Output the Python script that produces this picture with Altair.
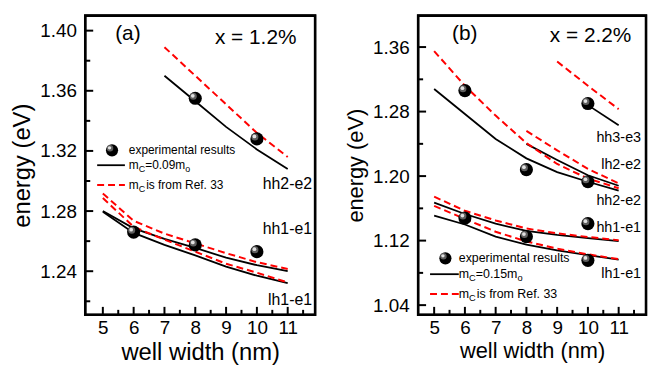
import altair as alt
import pandas as pd

FONT = "Liberation Sans"

# ---------------- panel (a): x = 1.2 % ----------------
a_w_full = [5, 6, 7, 8, 9, 10, 11]
a_w_hh2 = [7, 8, 9, 10, 11]
a_hh2_solid = [1.370, 1.353, 1.336, 1.321, 1.308]
a_hh2_dash = [1.389, 1.370, 1.351, 1.332, 1.316]
a_hh1_solid = [1.280, 1.2685, 1.2615, 1.2555, 1.249, 1.244, 1.240]
a_lh1_solid = [1.2795, 1.2655, 1.2575, 1.2505, 1.243, 1.237, 1.232]
a_hh1_dash = [1.2917, 1.2735, 1.265, 1.2585, 1.252, 1.246, 1.2415]
a_lh1_dash = [1.2887, 1.2695, 1.261, 1.253, 1.245, 1.239, 1.2325]
a_exp_w = [6, 8, 10, 8, 10]
a_exp_e = [1.266, 1.2575, 1.253, 1.355, 1.328]
a_label_text = ["hh2-e2", "hh1-e1", "lh1-e1"]
a_label_w = [11.79, 11.79, 11.79]
a_label_e = [1.298, 1.268, 1.221]
a_x_domain = [4.43, 11.89]
a_y_domain = [1.211, 1.410]
a_y_major = [1.24, 1.28, 1.32, 1.36, 1.40]
a_y_minor = [1.22, 1.26, 1.30, 1.34, 1.38]
a_mc = "0.09"

# ---------------- panel (b): x = 2.2 % ----------------
b_w_full = [5, 6, 7, 8, 9, 10, 11]
b_w_from8 = [8, 9, 10, 11]
b_w_from9 = [9, 10, 11]
b_w_from10 = [10, 11]
b_hh3_solid = [1.288, 1.263]
b_hh3_dash = [1.342, 1.312, 1.283]
b_hh2_solid = [1.308, 1.277, 1.246, 1.222, 1.205, 1.193, 1.182]
b_hh2_dash = [1.355, 1.312, 1.275, 1.241, 1.215, 1.197, 1.185]
b_lh2_solid = [1.240, 1.220, 1.201, 1.188]
b_lh2_dash = [1.256, 1.232, 1.209, 1.191]
b_hh1_solid = [1.167, 1.153, 1.141, 1.132, 1.127, 1.123, 1.1195]
b_hh1_dash = [1.1745, 1.157, 1.145, 1.135, 1.129, 1.1245, 1.1205]
b_lh1_solid = [1.151, 1.140, 1.125, 1.115, 1.108, 1.102, 1.0965]
b_lh1_dash = [1.163, 1.147, 1.131, 1.119, 1.110, 1.103, 1.097]
b_exp_w = [6, 10, 8, 10, 6, 10, 8, 10]
b_exp_e = [1.306, 1.290, 1.208, 1.193, 1.148, 1.141, 1.125, 1.0955]
b_label_text = ["hh3-e3", "lh2-e2", "hh2-e2", "hh1-e1", "lh1-e1"]
b_label_w = [11.73, 11.73, 11.73, 11.73, 11.73]
b_label_e = [1.2476, 1.2137, 1.1692, 1.136, 1.078]
b_x_domain = [4.48, 11.89]
b_y_domain = [1.028, 1.399]
b_y_major = [1.04, 1.12, 1.20, 1.28, 1.36]
b_y_minor = [1.08, 1.16, 1.24, 1.32]
b_mc = "0.15"

x_major = [5, 6, 7, 8, 9, 10, 11]
x_minor = [5.5, 6.5, 7.5, 8.5, 9.5, 10.5, 11.5]

H = 302

ONE = pd.DataFrame({"k": [0]})

BALL_PARTS = [(175, 0, 0, "#000000", 1.0), (50, -2, -2, "#6e6e6e", 0.85), (14, -2.5, -2.5, "#e8e8e8", 0.95)]


def curves_df(items):
    rows = []
    for name, xs, ys in items:
        for xv, yv in zip(xs, ys):
            rows.append({"x": xv, "y": yv, "curve": name})
    return pd.DataFrame(rows)


def text_w(s, fs):
    wid = {"m": 0.833, "C": 0.722, "=": 0.584, ".": 0.278, " ": 0.278, "o": 0.556,
           "i": 0.222, "s": 0.5, "f": 0.278, "r": 0.333, "R": 0.722, "e": 0.556}
    return sum(wid.get(c, 0.556) for c in s) * fs


def make_panel(p):
    W = p["w"]
    xd, yd = p["xdom"], p["ydom"]
    X = alt.X("x:Q", scale=alt.Scale(domain=xd, nice=False, zero=False),
              axis=alt.Axis(values=x_major, format="d", ticks=False, grid=False, domain=False,
                            labelFont=FONT, labelFontSize=19, labelColor="black", labelPadding=4,
                            titleFont=FONT, titleFontSize=p["tfs"], titleFontWeight="normal",
                            titleColor="black", titlePadding=3),
              title="well width (nm)")
    Y = alt.Y("y:Q", scale=alt.Scale(domain=yd, nice=False, zero=False),
              axis=alt.Axis(values=p["ymaj"], format=".2f", ticks=False, grid=False, domain=False,
                            labelFont=FONT, labelFontSize=19, labelColor="black", labelPadding=9,
                            titleFont=FONT, titleFontSize=p["tfs"], titleFontWeight="normal",
                            titleColor="black", titlePadding=5),
              title="energy (eV)")

    frame = alt.Chart(ONE).mark_rect(fill="none", stroke="black", strokeWidth=2.6).encode(
        x=alt.value(0), x2=alt.value(W), y=alt.value(0), y2=alt.value(H))

    pxu = W / (xd[1] - xd[0])
    pyu = H / (yd[1] - yd[0])
    trows = []
    k = 0
    for vals, ln in ((p["ymaj"], 8), (p["ymin"], 5)):
        for v in vals:
            trows += [{"x": xd[0], "y": v, "t": k}, {"x": xd[0] + ln / pxu, "y": v, "t": k}]
            k += 1
    for vals, ln in ((x_major, 8), (x_minor, 5)):
        for v in vals:
            trows += [{"x": v, "y": yd[0], "t": k}, {"x": v, "y": yd[0] + ln / pyu, "t": k}]
            k += 1
    ticks = alt.Chart(pd.DataFrame(trows)).mark_line(color="black", strokeWidth=2).encode(
        x=X, y=Y, detail="t:N")

    solid = alt.Chart(curves_df(p["solid"])).mark_line(color="black", strokeWidth=1.8).encode(
        x=X, y=Y, detail="curve:N")
    dashed = alt.Chart(curves_df(p["dash"])).mark_line(
        color="#ff0000", strokeWidth=2, strokeDash=[7, 4]).encode(x=X, y=Y, detail="curve:N")
    exp_df = pd.DataFrame({"x": p["expw"], "y": p["expe"]})
    pts = [alt.Chart(exp_df).mark_circle(size=sz, color=c, opacity=op, xOffset=dx, yOffset=dy).encode(x=X, y=Y)
           for sz, dx, dy, c, op in BALL_PARTS]
    labels = alt.Chart(pd.DataFrame({"x": p["lw"], "y": p["le"], "t": p["lt"]})).mark_text(
        align="right", baseline="middle", font=FONT, fontSize=p["lbfs"], color="black").encode(
        x=X, y=Y, text="t:N")

    def vrule(x0, x1, y0, color="black", sw=1.8, dash=None):
        kw = dict(color=color, strokeWidth=sw)
        if dash:
            kw["strokeDash"] = dash
        return alt.Chart(ONE).mark_rule(**kw).encode(x=alt.value(x0), x2=alt.value(x1), y=alt.value(y0))

    layers = [frame, ticks, solid, dashed] + pts + [labels]

    def txt(s, x, y, fs, align="left"):
        return alt.Chart(ONE).mark_text(text=s, font=FONT, fontSize=fs, color="black",
                                        align=align, baseline="middle").encode(
            x=alt.value(x), y=alt.value(y))

    layers.append(txt(p["tag"], p["tagxy"][0], p["tagxy"][1], 21, "center"))
    layers.append(txt(p["comp"], p["compxy"][0], p["compxy"][1], 21, "center"))

    lx0, lx1, tx, r1, r2, r3 = p["leg"]
    fs = p["lfs"]
    sfs = fs * 0.75
    for sz, dx, dy, c, op in BALL_PARTS:
        layers.append(alt.Chart(ONE).mark_circle(size=sz * 0.86, color=c, opacity=op).encode(
            x=alt.value((lx0 + lx1) / 2 + 1 + dx), y=alt.value(r1 + dy)))
    layers.append(txt("experimental results", tx, r1, fs))
    layers.append(vrule(lx0, lx1, r2))
    layers.append(vrule(lx0, lx1, r3, color="#ff0000", sw=2, dash=[7, 4]))
    cx = tx
    layers.append(txt("m", cx, r2, fs)); cx += text_w("m", fs)
    layers.append(txt("C", cx, r2 + 4, sfs)); cx += text_w("C", sfs)
    s = "=" + p["mc"] + "m"
    layers.append(txt(s, cx, r2, fs)); cx += text_w(s, fs)
    layers.append(txt("o", cx, r2 + 4, sfs))
    cx = tx
    layers.append(txt("m", cx, r3, fs)); cx += text_w("m", fs)
    layers.append(txt("C", cx, r3 + 4, sfs)); cx += text_w("C", sfs) + 1
    layers.append(txt(" is from Ref. 33", cx, r3, fs))

    return alt.layer(*layers).properties(width=W, height=H)


panel_a = make_panel(dict(
    xdom=a_x_domain, ydom=a_y_domain, ymaj=a_y_major, ymin=a_y_minor, tfs=24,
    solid=[("hh2", a_w_hh2, a_hh2_solid), ("hh1", a_w_full, a_hh1_solid), ("lh1", a_w_full, a_lh1_solid)],
    dash=[("hh2", a_w_hh2, a_hh2_dash), ("hh1", a_w_full, a_hh1_dash), ("lh1", a_w_full, a_lh1_dash)],
    expw=a_exp_w, expe=a_exp_e, lw=a_label_w, le=a_label_e, lt=a_label_text, lbfs=16,
    tag="(a)", tagxy=(43, 19), comp="x = 1.2%", compxy=(172, 23),
    leg=(12, 40, 44, 136, 151, 171), lfs=12, mc=a_mc, w=232))

panel_b = make_panel(dict(
    xdom=b_x_domain, ydom=b_y_domain, ymaj=b_y_major, ymin=b_y_minor, tfs=22,
    solid=[("hh3", b_w_from10, b_hh3_solid), ("hh2", b_w_full, b_hh2_solid), ("lh2", b_w_from8, b_lh2_solid),
           ("hh1", b_w_full, b_hh1_solid), ("lh1", b_w_full, b_lh1_solid)],
    dash=[("hh3", b_w_from9, b_hh3_dash), ("hh2", b_w_full, b_hh2_dash), ("lh2", b_w_from8, b_lh2_dash),
          ("hh1", b_w_full, b_hh1_dash), ("lh1", b_w_full, b_lh1_dash)],
    expw=b_exp_w, expe=b_exp_e, lw=b_label_w, le=b_label_e, lt=b_label_text, lbfs=14.5,
    tag="(b)", tagxy=(47, 19), comp="x = 2.2%", compxy=(174, 21),
    leg=(12, 41, 41, 245, 261, 281), lfs=12.5, mc=b_mc, w=230))

chart = alt.hconcat(panel_a, panel_b, spacing=26).properties(
    padding={"left": 2, "top": 3, "right": 0, "bottom": 0}
).configure_view(stroke="black", strokeWidth=2)

chart.save("out.html", embed_options={"renderer": "svg", "actions": False})
